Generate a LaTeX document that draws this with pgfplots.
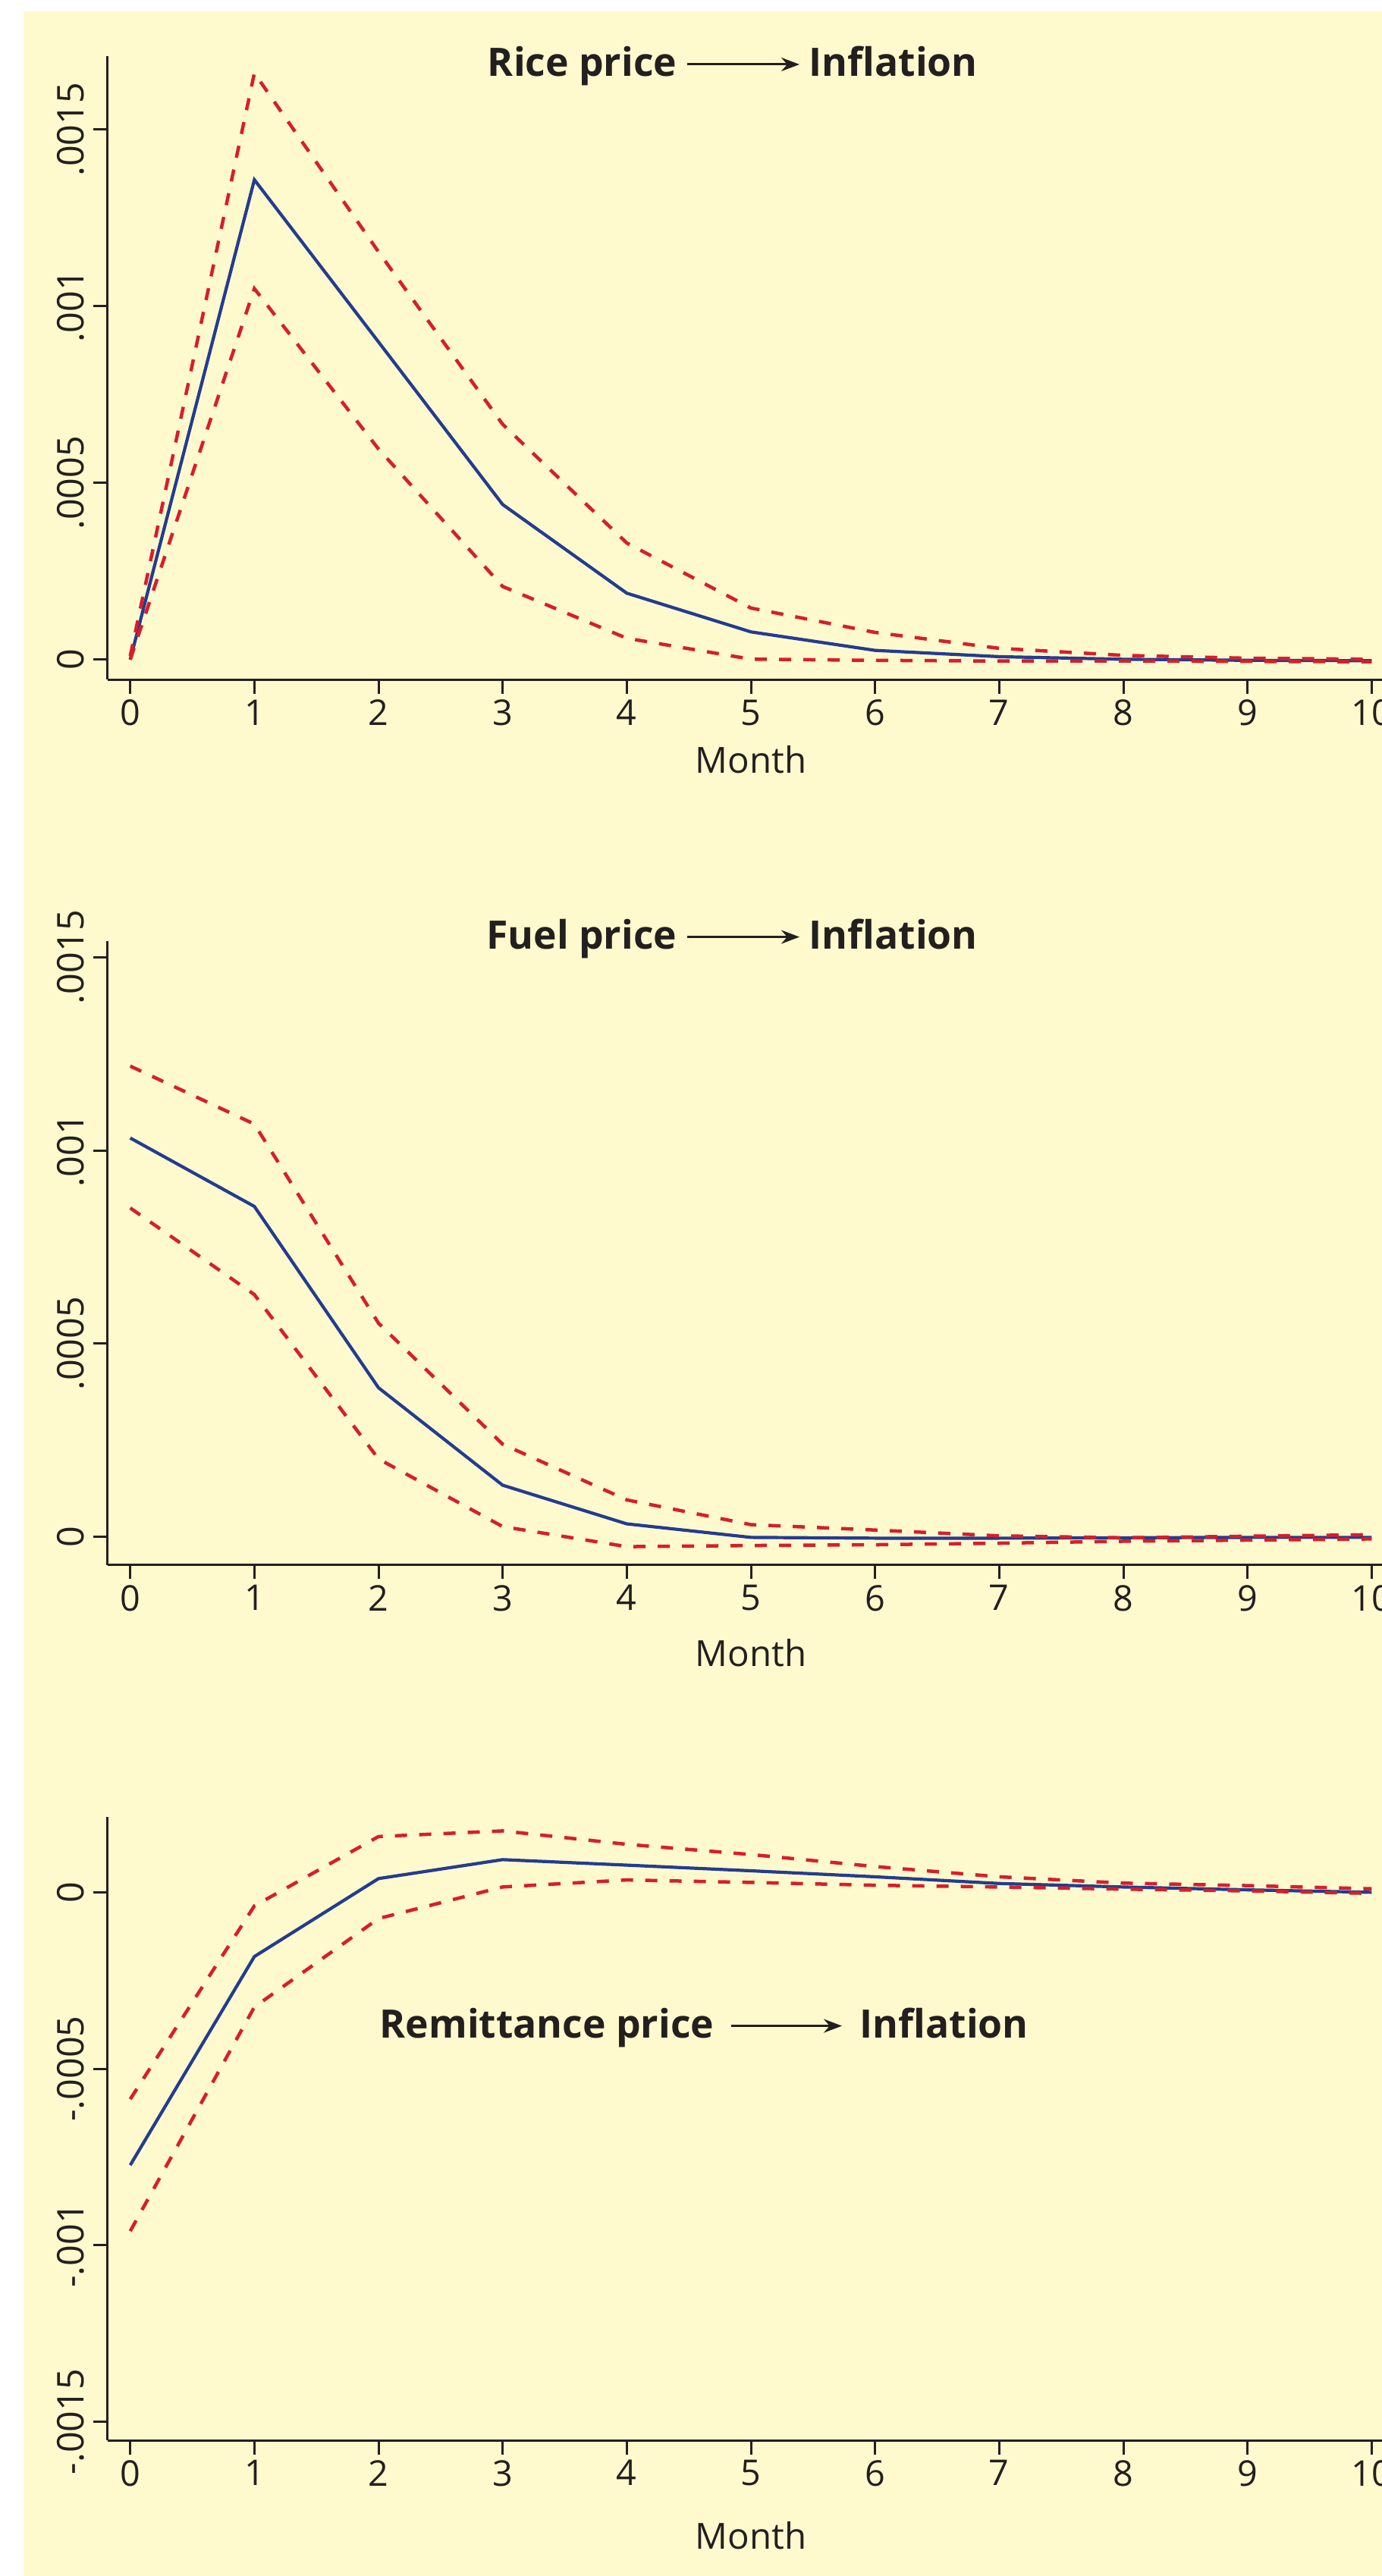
\documentclass[border=0pt]{standalone}
\usepackage{fontspec}
\setmainfont{Open Sans}
\usepackage{pgfplots}
\usepackage{pgfplotstable}
\pgfplotsset{compat=1.18}
\usetikzlibrary{arrows.meta}
\definecolor{bgc}{RGB}{255,250,205}
\definecolor{irfblue}{RGB}{35,60,145}
\definecolor{cired}{RGB}{215,30,45}
\definecolor{axc}{RGB}{35,31,32}

\pgfplotstableread{
x b u l
0 0 0.00001 0
1 0.001358 0.00166 0.00105
2 0.000899 0.001154 0.000596
3 0.000439 0.000666 0.000207
4 0.000188 0.00033 0.0000605
5 0.0000785 0.000146 0.0000013
6 0.0000262 0.000077 -0.000002
7 0.0000084 0.000032 -0.000004
8 0.000001 0.000012 -0.000004
9 -0.000002 0.000004 -0.000005
10 -0.000003 0.000001 -0.000006
}\rice

\pgfplotstableread{
x b u l
0 0.001032 0.001218 0.000851
1 0.000855 0.001068 0.000627
2 0.000386 0.000553 0.000202
3 0.000134 0.00024 0.000027
4 0.000034 0.000096 -0.000025
5 -0.000001 0.000032 -0.000022
6 -0.000003 0.000018 -0.00002
7 -0.000003 0.000003 -0.000016
8 -0.000002 -0.000002 -0.000011
9 -0.000001 0.000002 -0.000008
10 -0.000001 0.000006 -0.000005
}\fuel

\pgfplotstableread{
x b u l
0 -0.000773 -0.000586 -0.00096
1 -0.000182 -0.0000385 -0.000325
2 0.0000389 0.000158 -0.0000743
3 0.0000926 0.000174 0.0000152
4 0.000077 0.000136 0.000035
5 0.000061 0.000107 0.000028
6 0.000044 0.000073 0.00002
7 0.000025 0.000044 0.000015
8 0.000015 0.000026 0.000009
9 0.000007 0.000019 0.000004
10 0.000000 0.00001 -0.000003
}\remit

\pgfplotsset{
  irf/.style={
    scale only axis,
    anchor=south west,
    width=169.66mm,
    xmin=-0.1833, xmax=10.1833,
    axis x line*=bottom, axis y line*=left,
    axis line style={line width=0.3mm, color=axc, -},
    every tick/.style={line width=0.3mm, color=axc},
    tick align=outside,
    major tick length=1.85mm,
    xtick={0,1,2,3,4,5,6,7,8,9,10},
    scaled y ticks=false,
    /pgf/number format/assume math mode=true,
    tick label style={font=\fontsize{13.3}{15}\selectfont, color=axc},
    xticklabel style={inner ysep=0.7mm},
    yticklabel style={rotate=90, anchor=south, font=\fontsize{13.8}{15}\selectfont},
    xlabel={Month},
    xlabel style={at={(axis description cs:0.5,0)}, anchor=north, font=\fontsize{13.5}{15}\selectfont, color=axc},
  },
  blueline/.style={color=irfblue, line width=0.42mm, no marks},
  redline/.style={color=cired, line width=0.45mm, no marks, dash pattern=on 1.6mm off 1.6mm},
}

\begin{document}
\begin{tikzpicture}
\path[use as bounding box] (0,0) rectangle (182.2mm,339.7mm);
\clip (0,0) rectangle (182.2mm,339.7mm);
\fill[white] (0,0) rectangle (182.2mm,339.7mm);
\fill[bgc] (3.1mm,0) rectangle (182.2mm,338.2mm);

% Panel 1
\begin{axis}[irf, at={(14.17mm,250.05mm)}, height=82.25mm,
  ymin=-0.0000571, ymax=0.001708,
  ytick={0,0.0005,0.001,0.0015}, yticklabels={0,.0005,.001,.0015},
  xlabel style={yshift=-7.5mm}]
\addplot[blueline] table[x=x,y=b] {\rice};
\addplot[redline] table[x=x,y=u] {\rice};
\addplot[redline] table[x=x,y=l] {\rice};
\end{axis}

% Panel 2
\begin{axis}[irf, at={(14.17mm,133.3mm)}, height=82.28mm,
  ymin=-0.0000728, ymax=0.001541,
  ytick={0,0.0005,0.001,0.0015}, yticklabels={0,.0005,.001,.0015},
  xlabel style={yshift=-8.55mm}]
\addplot[blueline] table[x=x,y=b] {\fuel};
\addplot[redline] table[x=x,y=u] {\fuel};
\addplot[redline] table[x=x,y=l] {\fuel};
\end{axis}

% Panel 3
\begin{axis}[irf, at={(14.17mm,17.89mm)}, height=82.21mm,
  ymin=-0.0015527, ymax=0.0002136,
  ytick={-0.0015,-0.001,-0.0005,0}, yticklabels={-.0015,-.001,-.0005,0},
  xlabel style={yshift=-9.45mm}]
\addplot[blueline] table[x=x,y=b] {\remit};
\addplot[redline] table[x=x,y=u] {\remit};
\addplot[redline] table[x=x,y=l] {\remit};
\end{axis}

% Titles
\begin{scope}[every node/.style={inner sep=0pt, font=\fontsize{14.7}{18}\selectfont\bfseries, color=axc}]
\node[anchor=base east] at (89.3mm,329.6mm) {Rice price};
\draw[axc, line width=0.3mm, -{Stealth[length=2.4mm,width=1.8mm]}] (90.6mm,331.2mm) -- (105.4mm,331.2mm);
\node[anchor=base west] at (106.6mm,329.6mm) {Inflation};

\node[anchor=base east] at (89.3mm,214.53mm) {Fuel price};
\draw[axc, line width=0.3mm, -{Stealth[length=2.4mm,width=1.8mm]}] (90.6mm,216.14mm) -- (105.4mm,216.14mm);
\node[anchor=base west] at (106.6mm,214.53mm) {Inflation};

\node[anchor=base east] at (94.2mm,70.97mm) {Remittance price};
\draw[axc, line width=0.3mm, -{Stealth[length=2.4mm,width=1.8mm]}] (96.4mm,72.54mm) -- (111.0mm,72.54mm);
\node[anchor=base west] at (113.3mm,70.97mm) {Inflation};
\end{scope}
\end{tikzpicture}
\end{document}
